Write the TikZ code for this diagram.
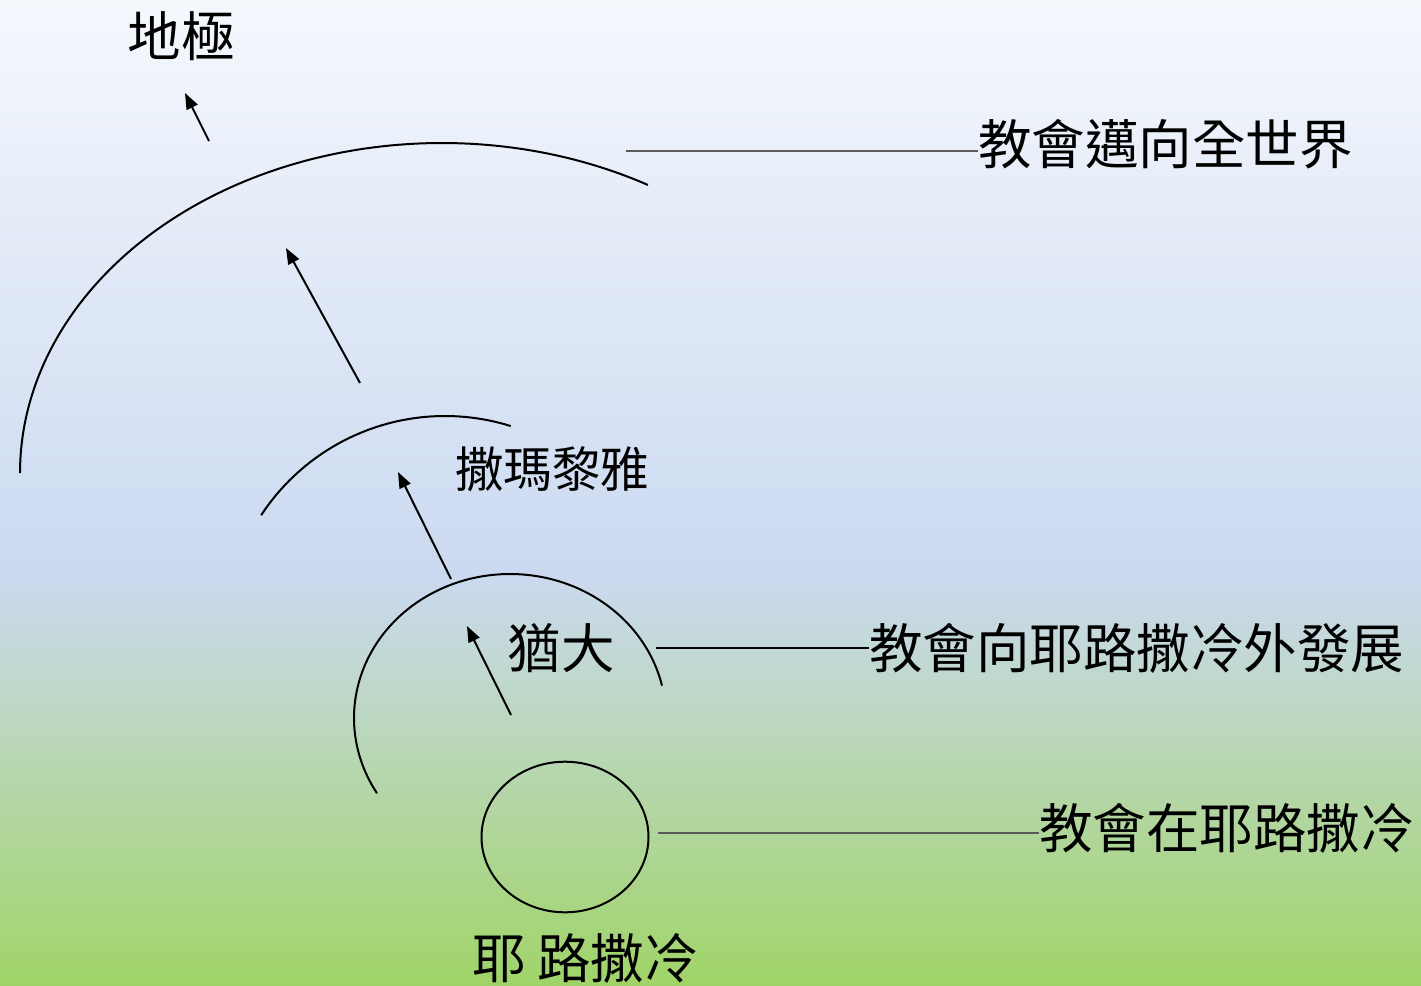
\documentclass[tikz,border=0pt]{standalone}
\usepackage{fontspec}
\setmainfont{Noto Sans CJK TC}
\usetikzlibrary{arrows.meta,shapes.geometric}
\definecolor{bgtop}{RGB}{245,248,253}
\definecolor{bgmid}{RGB}{203,217,240}
\definecolor{bgbot}{RGB}{160,212,104}
\definecolor{thingray}{RGB}{90,90,90}
\begin{document}
\begin{tikzpicture}[x=1pt,y=-1pt,
  arcline/.style={line width=2pt,black},
  upar/.style={line width=2pt,black,-{Triangle[length=16pt,width=12pt]}},
  thinline/.style={line width=1.3pt,thingray},
  boldline/.style={line width=2.2pt,black},
  lbl/.style={inner sep=0pt,font=\fontsize{53.5}{60}\selectfont},
  lblw/.style={lbl,anchor=west}]
\useasboundingbox (0,0) rectangle (1421,985);
\shade[top color=bgtop,bottom color=bgmid] (0,0) rectangle (1421,575);
\shade[top color=bgmid,bottom color=bgbot] (0,574) rectangle (1421,985);

% arcs
\draw[arcline] plot[domain=180:299.2,samples=90,smooth] ({442+422*cos(\x)},{473+330*sin(\x)});
\draw[arcline] plot[domain=213.3:287.4,samples=60,smooth] ({445+220*cos(\x)},{636+220*sin(\x)});
\draw[arcline] plot[domain=148.5:347,samples=90,smooth] ({510+156*cos(\x)},{718+144*sin(\x)});
\node[draw,ellipse,line width=2pt,minimum width=167pt,minimum height=150.6pt,inner sep=0pt] (jer) at (565,837) {};

% labels
\node[lbl] (ends) at (181,36) {地極};
\node[lbl,font=\fontsize{48.5}{56}\selectfont] (sam) at (552,469) {撒瑪黎雅};
\node[lbl] (jud) at (561,648) {猶大};
\node[lbl] (jname) at (585,958) {耶 路撒冷};
\node[lblw] (t1) at (978,144) {教會邁向全世界};
\node[lblw] (t2) at (869,648) {教會向耶路撒冷外發展};
\node[lblw] (t3) at (1039,828) {教會在耶路撒冷};

% connector lines
\coordinate (l1) at (626,151);
\coordinate (l2) at (656,648);
\coordinate (l3) at (658,833);
\draw[thinline] (l1) -- (l1 -| t1.west);
\draw[boldline] (l2) -- (l2 -| t2.west);
\draw[thinline] (l3) -- (l3 -| t3.west);

% arrows
\coordinate (a1s) at (511,715); \coordinate (a1e) at (467,626);
\coordinate (a2s) at (451,579); \coordinate (a2e) at (398,472);
\coordinate (a3s) at (360,383); \coordinate (a3e) at (286,248);
\coordinate (a4s) at (209,141); \coordinate (a4e) at (185,93);
\draw[upar] (a1s) -- (a1e);
\draw[upar] (a2s) -- (a2e);
\draw[upar] (a3s) -- (a3e);
\draw[upar] (a4s) -- (a4e);
\end{tikzpicture}
\end{document}
